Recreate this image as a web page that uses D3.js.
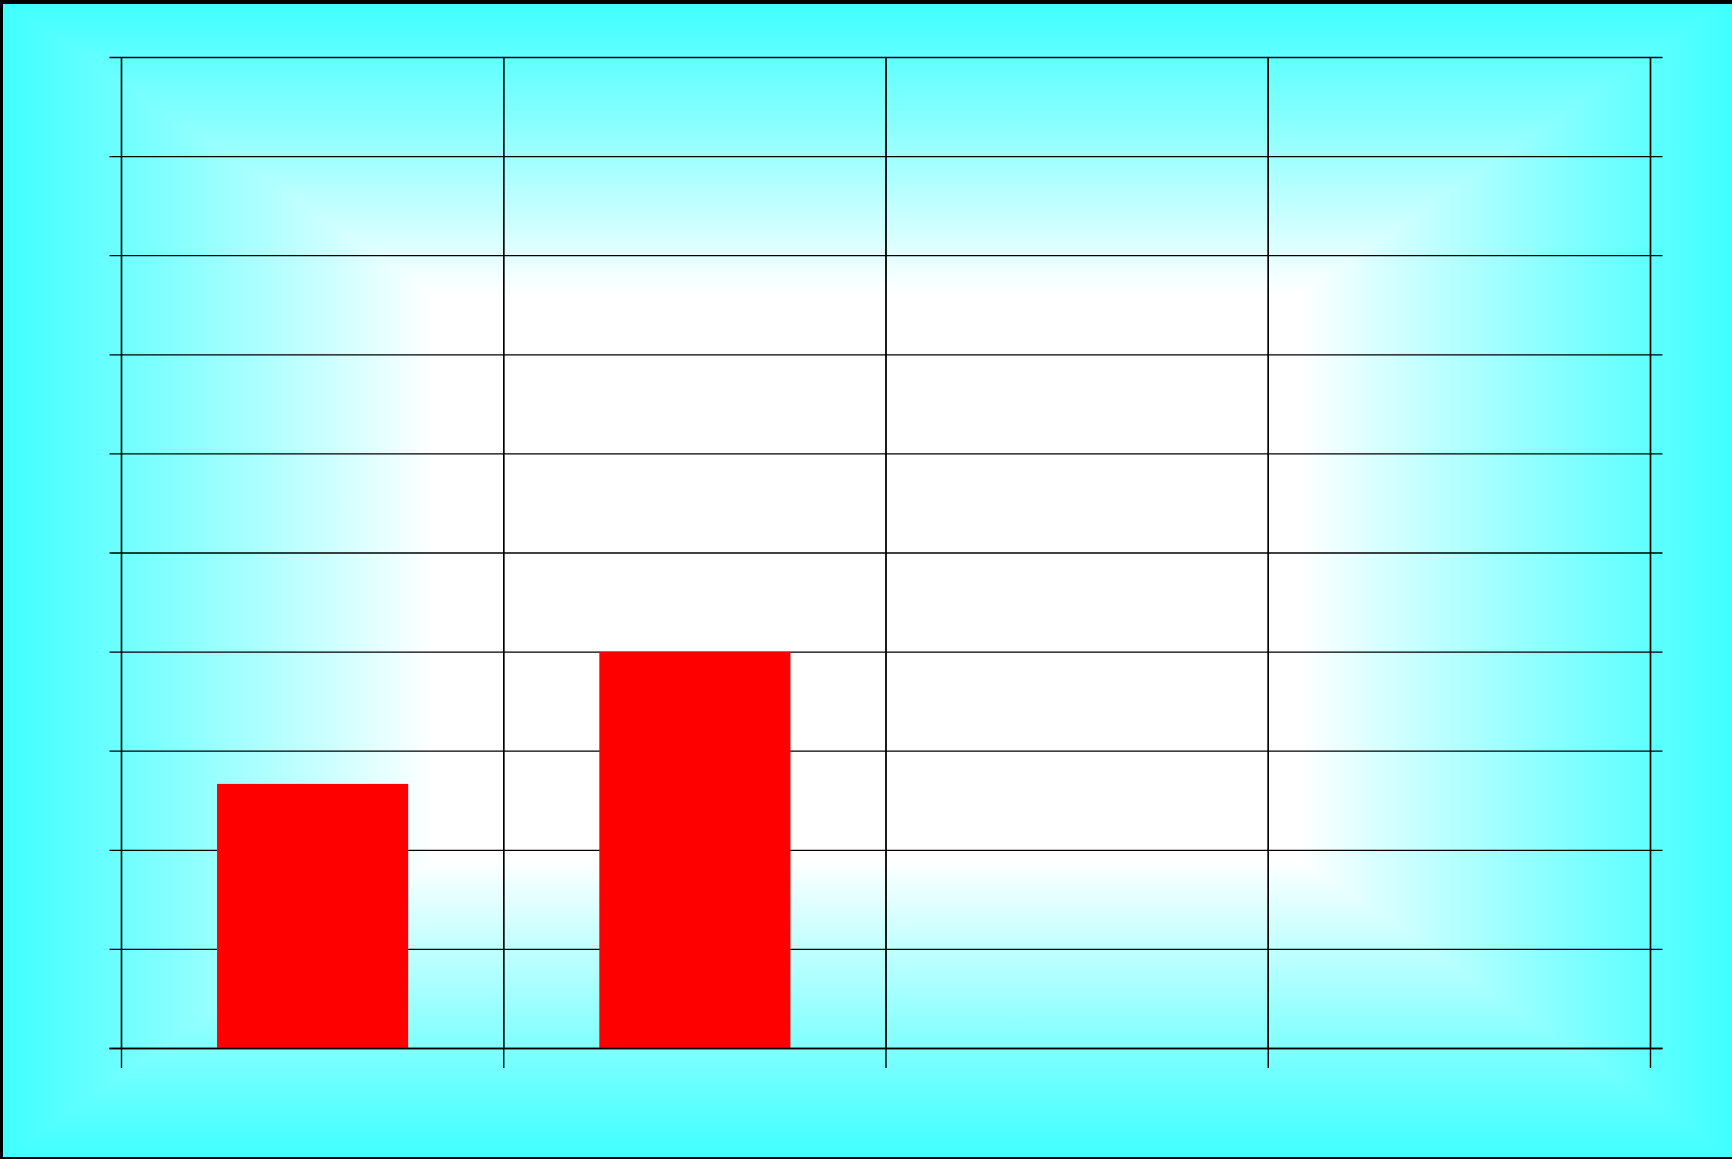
<!DOCTYPE html>
<html>
<head>
<meta charset="utf-8">
<script src="https://cdn.jsdelivr.net/npm/d3@7"></script>
<style>
html,body{margin:0;padding:0;background:#fff;overflow:hidden;}
svg{display:block;}
</style>
</head>
<body>
<svg id="chart" width="1732" height="1159"></svg>
<script>
// ---- data ----
const categories = ["1", "2", "3", "4"];
const values = [2.67, 4, 0, 0];
const yTicks = [0, 1, 2, 3, 4, 5, 6, 7, 8, 9, 10];

// ---- layout ----
const W = 1732, H = 1159;
const plot = {left: 121.5, right: 1650.5, top: 57.5, bottom: 1048.5};
const cyan = "#40FFFF";

const svg = d3.select("#chart");
const defs = svg.append("defs");

// rectangular (path-style) background gradient: white centre fading to cyan at edges
const inner = {x0: 433, x1: 1300, y0: 293, y1: 860};
const mix = d3.interpolateRgb(cyan, "#FFFFFF");
function lg(id, x1, y1, x2, y2) {
  const g = defs.append("linearGradient").attr("id", id)
    .attr("gradientUnits", "userSpaceOnUse")
    .attr("x1", x1).attr("y1", y1).attr("x2", x2).attr("y2", y2);
  d3.range(0, 1.0001, 0.1).forEach(t => {
    g.append("stop").attr("offset", t).attr("stop-color", mix(Math.pow(t, 1.1)));
  });
}
lg("gTop", 0, 0, 0, inner.y0);
lg("gBot", 0, H, 0, inner.y1);
lg("gLeft", 0, 0, inner.x0, 0);
lg("gRight", W, 0, inner.x1, 0);

const bg = svg.append("g").attr("shape-rendering", "crispEdges");
bg.append("rect").attr("x", 0).attr("y", 0).attr("width", W).attr("height", H).attr("fill", "#fff");
const poly = (pts, fill) => bg.append("polygon").attr("points", pts.map(p => p.join(",")).join(" ")).attr("fill", fill);
poly([[0,0],[W,0],[inner.x1,inner.y0],[inner.x0,inner.y0]], "url(#gTop)");
poly([[0,H],[W,H],[inner.x1,inner.y1],[inner.x0,inner.y1]], "url(#gBot)");
poly([[0,0],[inner.x0,inner.y0],[inner.x0,inner.y1],[0,H]], "url(#gLeft)");
poly([[W,0],[inner.x1,inner.y0],[inner.x1,inner.y1],[W,H]], "url(#gRight)");

// ---- scales ----
const x = d3.scaleBand().domain(categories)
  .range([plot.left, plot.right]).paddingInner(0.5).paddingOuter(0.25);
const y = d3.scaleLinear().domain([0, 10]).range([plot.bottom, plot.top]);
const step = x.step();
const boundaries = d3.range(categories.length + 1).map(i => plot.left + i * step);

// ---- grid ----
const grid = svg.append("g").attr("stroke", "#000").attr("stroke-width", 1.3).attr("fill", "none");
grid.selectAll("line.h").data(yTicks).join("line").attr("class", "h")
  .attr("x1", plot.left - 12).attr("x2", plot.right + 12)
  .attr("y1", d => y(d)).attr("y2", d => y(d));
grid.selectAll("line.v").data(boundaries).join("line").attr("class", "v")
  .attr("x1", d => d).attr("x2", d => d)
  .attr("y1", plot.top).attr("y2", plot.bottom);

// ---- bars ----
svg.append("g").selectAll("rect").data(categories.map((c, i) => ({c, v: values[i]})).filter(d => d.v > 0))
  .join("rect")
  .attr("x", d => x(d.c)).attr("width", x.bandwidth())
  .attr("y", d => y(d.v)).attr("height", d => y(0) - y(d.v))
  .attr("fill", "#FF0000");

// ---- axes (drawn on top) ----
const axes = svg.append("g").attr("stroke", "#000").attr("stroke-width", 1.4).attr("fill", "none");
axes.append("line").attr("x1", plot.left - 12).attr("x2", plot.right + 12).attr("y1", y(0)).attr("y2", y(0));
axes.selectAll("line.xt").data(boundaries).join("line").attr("class", "xt")
  .attr("x1", d => d).attr("x2", d => d).attr("y1", plot.top).attr("y2", plot.bottom + 19.5);

// ---- outer frame (left, top, bottom edges) ----
const frame = svg.append("g").attr("fill", "#000").attr("shape-rendering", "crispEdges");
frame.append("rect").attr("x", 0).attr("y", 0).attr("width", 3).attr("height", H);
frame.append("rect").attr("x", 0).attr("y", 0).attr("width", W).attr("height", 4);
frame.append("rect").attr("x", 0).attr("y", H - 2.5).attr("width", W).attr("height", 2.5);
</script>
</body>
</html>
